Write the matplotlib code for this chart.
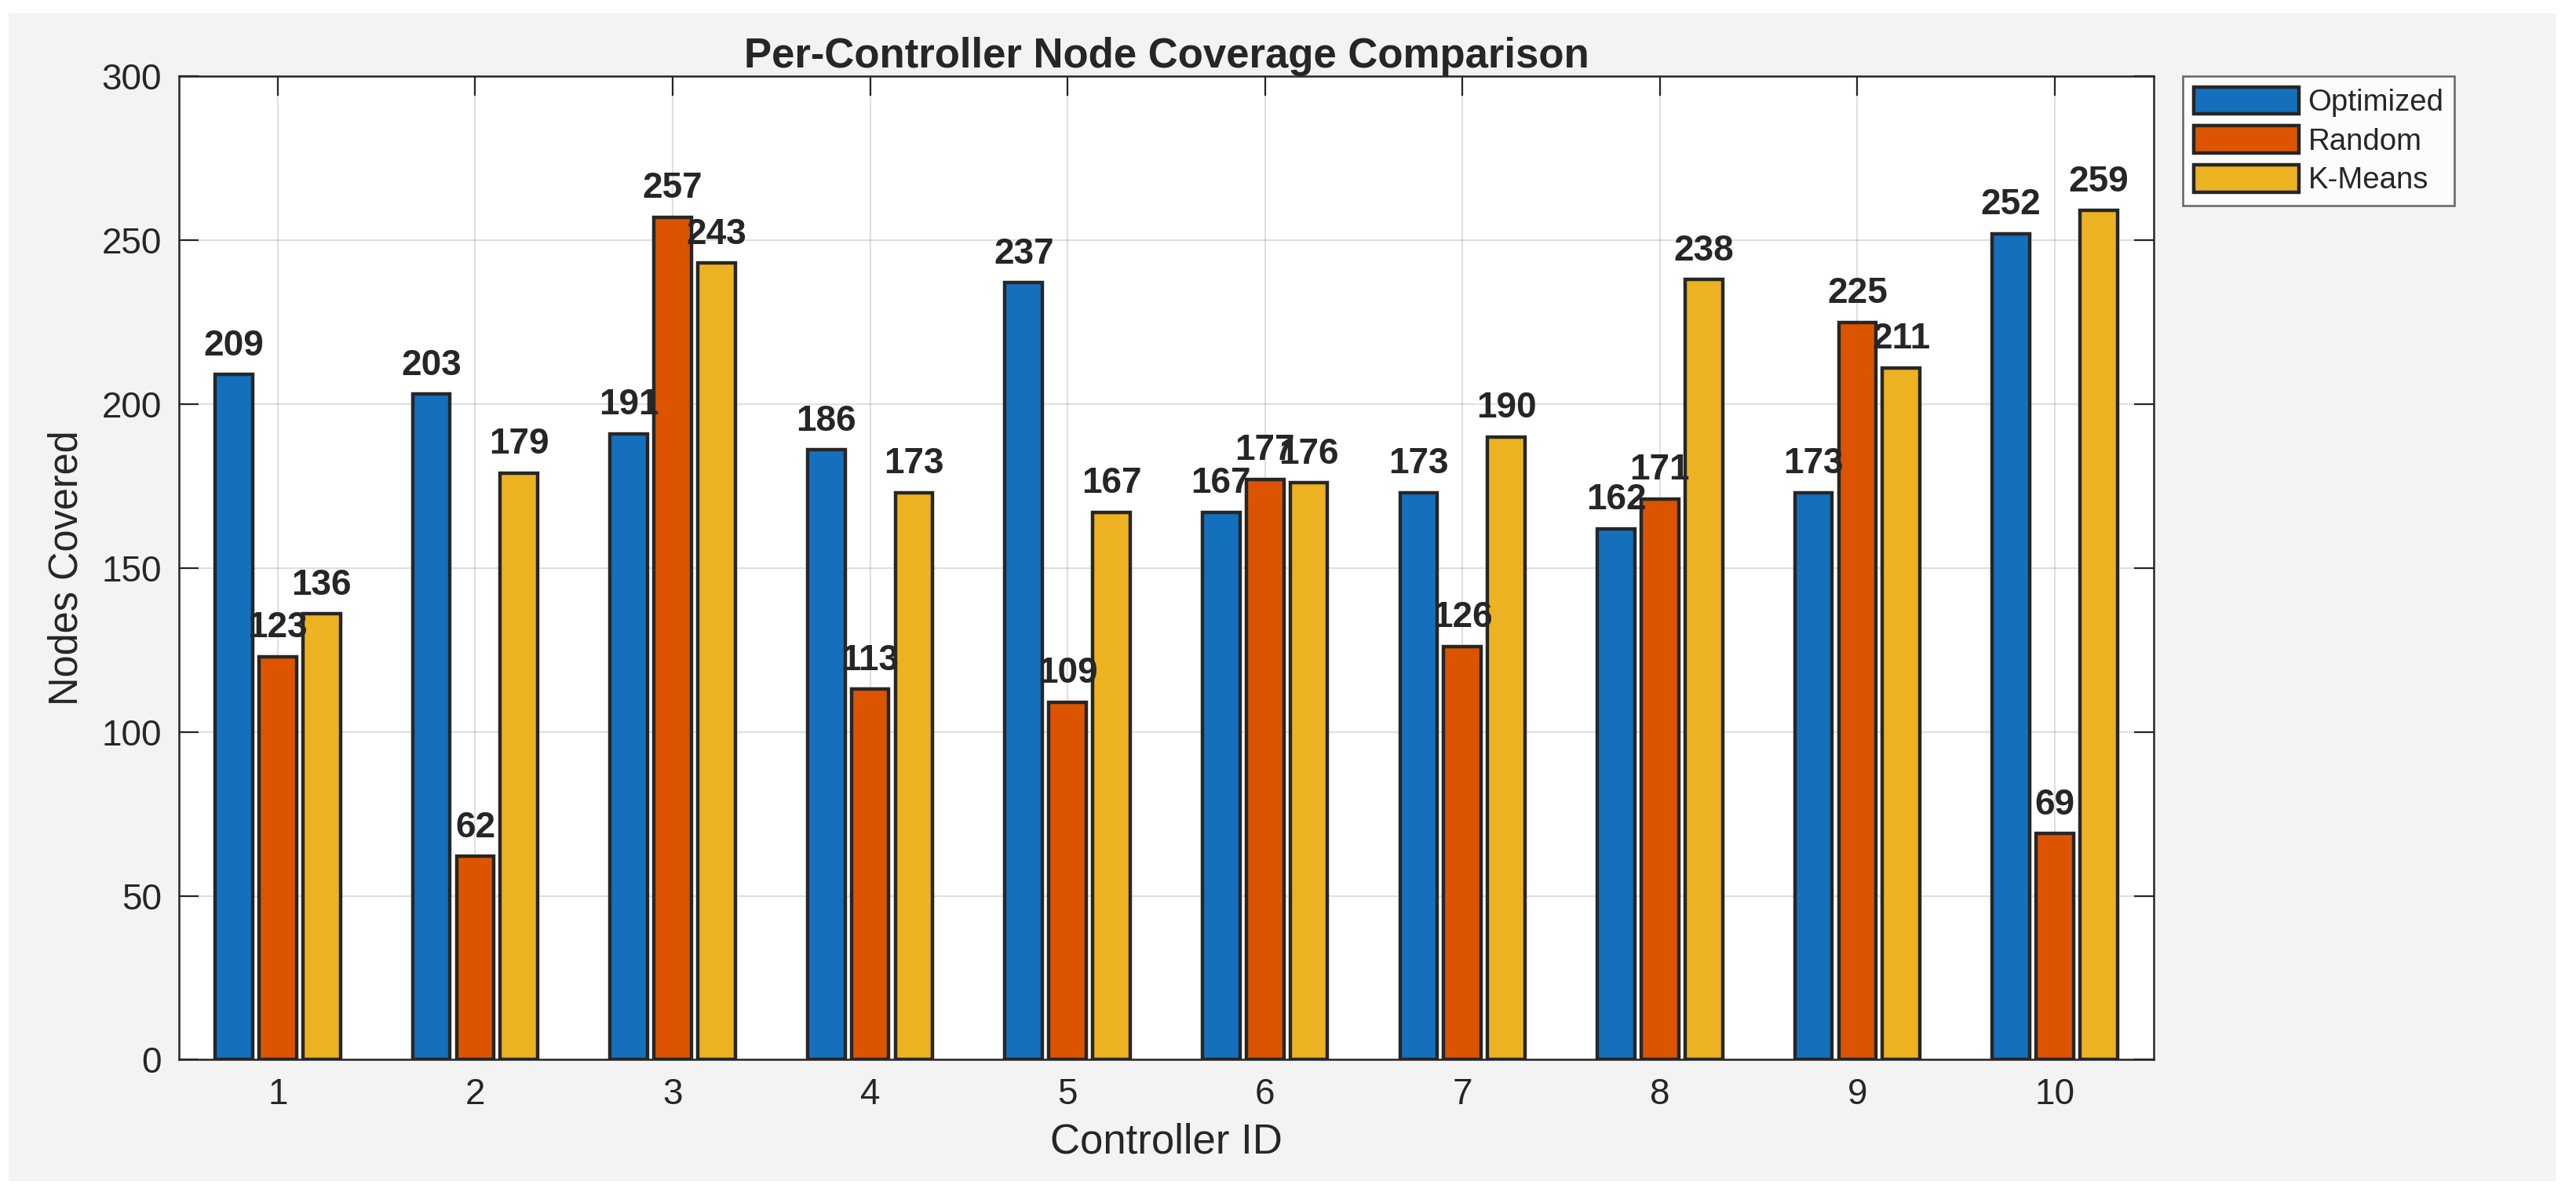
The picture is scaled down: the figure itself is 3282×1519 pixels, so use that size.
import matplotlib
matplotlib.use("Agg")
import matplotlib.pyplot as plt
import numpy as np
from matplotlib.patches import Rectangle, Patch

controllers = [1, 2, 3, 4, 5, 6, 7, 8, 9, 10]
optimized = [209, 203, 191, 186, 237, 167, 173, 162, 173, 252]
random_ = [123, 62, 257, 113, 109, 177, 126, 171, 225, 69]
kmeans = [136, 179, 243, 173, 167, 176, 190, 238, 211, 259]
series_names = ["Optimized", "Random", "K-Means"]
colors = ["#1470BD", "#DC5400", "#ECB222"]

plt.rcParams['font.family'] = ['Liberation Sans', 'DejaVu Sans']
txt = "#262626"

fig = plt.figure(figsize=(16.41, 7.595), dpi=200, facecolor="white")
fig.patches.append(Rectangle((0.0035, 0.009), 0.9885, 0.980, transform=fig.transFigure,
                             facecolor="#F3F3F3", edgecolor="none", zorder=-10))
ax = fig.add_axes([0.0695, 0.111, 0.7665, 0.825])
ax.set_facecolor("white")

x = np.array(controllers, dtype=float)
offs = [-0.222, 0.0, 0.222]
w = 0.19
for vals, off, c, name in zip([optimized, random_, kmeans], offs, colors, series_names):
    ax.bar(x + off, vals, width=w, color=c, edgecolor="#262626", linewidth=1.6,
           label=name, zorder=3)
    for xi, v in zip(x + off, vals):
        ax.text(xi, v + 3.5, str(v), ha="center", va="bottom", fontsize=16.5,
                fontweight="bold", color=txt, zorder=5)

ax.set_xlim(0.5, 10.5)
ax.set_ylim(0, 300)
ax.set_xticks(controllers)
ax.set_yticks(np.arange(0, 301, 50))
ax.tick_params(direction="in", length=9, width=0.8, color=txt, labelsize=16.5,
               labelcolor=txt, top=True, right=True, pad=8)
ax.grid(True, color="#000000", alpha=0.12, linewidth=0.8, zorder=0)
ax.set_axisbelow(True)
for s in ax.spines.values():
    s.set_color("#262626")
    s.set_linewidth(0.9)

ax.set_title("Per-Controller Node Coverage Comparison", fontsize=19, fontweight="bold",
             color=txt, pad=4)
ax.set_xlabel("Controller ID", fontsize=19, color=txt, labelpad=5)
ax.set_ylabel("Nodes Covered", fontsize=18.2, color=txt, labelpad=7)

handles = [Patch(facecolor=c, edgecolor="#262626", linewidth=1.6) for c in colors]
leg = fig.legend(handles, series_names, loc="upper left", bbox_to_anchor=(0.8475, 0.936),
                 fontsize=13.8, frameon=True, fancybox=False, handlelength=3.5,
                 handleheight=1.0, labelspacing=0.3, handletextpad=0.3,
                 borderpad=0.35, borderaxespad=0)
leg.get_frame().set_edgecolor("#404040")
leg.get_frame().set_linewidth(0.9)
for t in leg.get_texts():
    t.set_color(txt)

fig.savefig("out.png", dpi=200, facecolor="white")
